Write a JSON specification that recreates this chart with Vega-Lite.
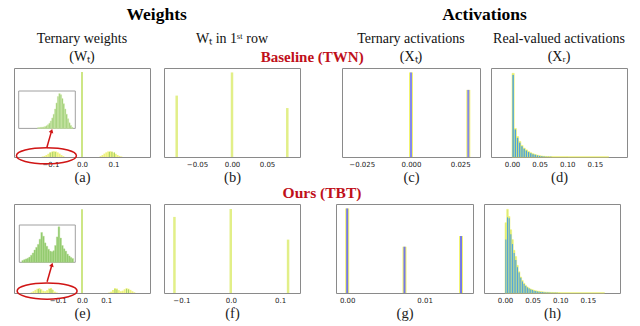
{
  "$schema": "https://vega.github.io/schema/vega-lite/v6.json",
  "background": "white",
  "padding": {"left": 12, "top": 6, "right": 5, "bottom": 2},
  "config": {
    "view": {"stroke": "#8a8a8a", "strokeWidth": 1},
    "axis": {"labelFont": "DejaVu Sans", "labelFontSize": 7, "labelColor": "#222", "ticks": false, "domain": false, "grid": false, "labelPadding": 3, "labelFlush": false, "titleFont": "Liberation Serif", "titleFontSize": 14.5, "titleFontWeight": "normal", "titleColor": "#222", "titlePadding": 3},
    "title": {"font": "Liberation Serif", "fontSize": 14, "fontWeight": "normal", "color": "#111", "offset": 4, "lineHeight": 18, "anchor": "middle"}
  },
  "spacing": 2,
  "vconcat": [
    {
      "title": {"text": "Baseline (TWN)", "color": "#c0101a", "fontWeight": "bold", "fontSize": 15, "offset": 0, "dy": 59, "dx": -8},
      "spacing": 40,
      "hconcat": [
        {
          "title": {"text": "Weights", "fontSize": 17.5, "fontWeight": "bold", "color": "#000", "offset": 8},
          "spacing": 14,
          "bounds": "flush",
          "hconcat": [
            {
              "width": 136, "height": 89,
              "title": {"text": ["Ternary weights", "(Wₜ)"]},
              "resolve": {"scale": {"x": "independent", "y": "independent"}},
              "layer": [
                {
                  "layer": [
                    {
                      "data": {"values": [
                        {"b": -0.128, "e": -0.122, "y": 0.006}, {"b": -0.122, "e": -0.116, "y": 0.012}, {"b": -0.116, "e": -0.11, "y": 0.022}, {"b": -0.11, "e": -0.104, "y": 0.036}, {"b": -0.104, "e": -0.098, "y": 0.05}, {"b": -0.098, "e": -0.092, "y": 0.06}, {"b": -0.092, "e": -0.086, "y": 0.066}, {"b": -0.086, "e": -0.08, "y": 0.062}, {"b": -0.08, "e": -0.074, "y": 0.052}, {"b": -0.074, "e": -0.068, "y": 0.038}, {"b": -0.068, "e": -0.062, "y": 0.022}, {"b": -0.062, "e": -0.056, "y": 0.01},
                        {"b": 0.056, "e": 0.062, "y": 0.01}, {"b": 0.062, "e": 0.068, "y": 0.022}, {"b": 0.068, "e": 0.074, "y": 0.038}, {"b": 0.074, "e": 0.08, "y": 0.052}, {"b": 0.08, "e": 0.086, "y": 0.062}, {"b": 0.086, "e": 0.092, "y": 0.066}, {"b": 0.092, "e": 0.098, "y": 0.06}, {"b": 0.098, "e": 0.104, "y": 0.05}, {"b": 0.104, "e": 0.11, "y": 0.036}, {"b": 0.11, "e": 0.116, "y": 0.022}, {"b": 0.116, "e": 0.122, "y": 0.012}, {"b": 0.122, "e": 0.128, "y": 0.006}
                      ]},
                      "mark": {"type": "rect", "color": "#eef27f"},
                      "encoding": {
                        "x": {"field": "b", "type": "quantitative", "scale": {"domain": [-0.2, 0.2], "nice": false, "zero": false}, "axis": {"values": [-0.1, 0, 0.1], "format": ".1f", "title": "(a)"}},
                        "x2": {"field": "e"},
                        "y": {"field": "y", "type": "quantitative", "scale": {"domain": [0, 1], "nice": false}, "axis": null},
                        "y2": {"datum": 0}
                      }
                    },
                    {
                      "data": {"values": [{"x": -0.101, "y": 0.05}, {"x": -0.093, "y": 0.058}, {"x": -0.085, "y": 0.055}, {"x": 0.087, "y": 0.055}, {"x": 0.095, "y": 0.058}, {"x": 0.103, "y": 0.05}]},
                      "mark": {"type": "bar", "orient": "vertical", "size": 1, "color": "#a5d16b"},
                      "encoding": {"x": {"field": "x", "type": "quantitative"}, "y": {"field": "y", "type": "quantitative"}}
                    },
                    {
                      "data": {"values": [{"x": 0, "y": 0.955}]},
                      "mark": {"type": "bar", "orient": "vertical", "size": 2, "color": "#cde685"},
                      "encoding": {"x": {"field": "x", "type": "quantitative"}, "y": {"field": "y", "type": "quantitative"}}
                    },
                    {
                      "data": {"values": [{}]},
                      "mark": {"type": "point", "shape": "M-1,0A1,0.27,0,1,1,1,0A1,0.27,0,1,1,-1,0Z", "size": 3600, "filled": false, "color": "#d01515", "strokeWidth": 1.5, "opacity": 1},
                      "encoding": {"x": {"datum": -0.113, "type": "quantitative"}, "y": {"datum": 0.014, "type": "quantitative"}}
                    },
                    {
                      "data": {"values": [{}]},
                      "mark": {"type": "rule", "color": "#d01515", "strokeWidth": 1.5},
                      "encoding": {"x": {"datum": -0.112, "type": "quantitative"}, "y": {"datum": 0.102, "type": "quantitative"}, "x2": {"datum": -0.0965}, "y2": {"datum": 0.294}}
                    },
                    {
                      "data": {"values": [{}]},
                      "mark": {"type": "point", "shape": "triangle-up", "size": 22, "filled": true, "color": "#d01515", "angle": 17, "opacity": 1},
                      "encoding": {"x": {"datum": -0.0965, "type": "quantitative"}, "y": {"datum": 0.294, "type": "quantitative"}}
                    }
                  ]
                },
                {
                  "layer": [
                    {
                      "data": {"values": [{}]},
                      "mark": {"type": "rect", "fill": "white", "stroke": "#a0a0a0", "strokeWidth": 1},
                      "encoding": {
                        "x": {"datum": -0.16, "type": "quantitative", "scale": {"domain": [-0.16, -0.04], "range": [4.7, 61.3], "nice": false, "zero": false}, "axis": null},
                        "x2": {"datum": -0.04},
                        "y": {"datum": 0, "type": "quantitative", "scale": {"domain": [0, 1], "range": [60.4, 23], "nice": false}, "axis": null},
                        "y2": {"datum": 1}
                      }
                    },
                    {
                      "data": {"values": [
                        {"b": -0.12, "e": -0.117, "y": 0.02}, {"b": -0.117, "e": -0.114, "y": 0.02}, {"b": -0.114, "e": -0.111, "y": 0.03}, {"b": -0.111, "e": -0.108, "y": 0.03}, {"b": -0.108, "e": -0.105, "y": 0.04}, {"b": -0.105, "e": -0.102, "y": 0.05}, {"b": -0.102, "e": -0.099, "y": 0.07}, {"b": -0.099, "e": -0.096, "y": 0.1}, {"b": -0.096, "e": -0.093, "y": 0.14}, {"b": -0.093, "e": -0.09, "y": 0.2}, {"b": -0.09, "e": -0.087, "y": 0.28}, {"b": -0.087, "e": -0.084, "y": 0.38}, {"b": -0.084, "e": -0.081, "y": 0.52}, {"b": -0.081, "e": -0.078, "y": 0.68}, {"b": -0.078, "e": -0.075, "y": 0.85}, {"b": -0.075, "e": -0.072, "y": 0.93}, {"b": -0.072, "e": -0.069, "y": 0.9}, {"b": -0.069, "e": -0.066, "y": 0.8}, {"b": -0.066, "e": -0.063, "y": 0.66}, {"b": -0.063, "e": -0.06, "y": 0.52}, {"b": -0.06, "e": -0.057, "y": 0.38}, {"b": -0.057, "e": -0.054, "y": 0.26}, {"b": -0.054, "e": -0.051, "y": 0.15}, {"b": -0.051, "e": -0.048, "y": 0.08}, {"b": -0.048, "e": -0.045, "y": 0.03}
                      ]},
                      "mark": {"type": "rect", "fill": "#95ca6c", "stroke": "#d4ebb0", "strokeWidth": 0.5},
                      "encoding": {"x": {"field": "b", "type": "quantitative"}, "x2": {"field": "e"}, "y": {"field": "y", "type": "quantitative"}, "y2": {"datum": 0}}
                    }
                  ]
                }
              ]
            },
            {
              "width": 136, "height": 89,
              "title": {"text": ["Wₜ in 1ˢᵗ row", ""]},
              "data": {"values": [{"x": -0.079, "y": 0.69}, {"x": 0, "y": 0.95}, {"x": 0.079, "y": 0.55}]},
              "mark": {"type": "bar", "orient": "vertical", "size": 2.5, "color": "#e2ef88"},
              "encoding": {
                "x": {"field": "x", "type": "quantitative", "scale": {"domain": [-0.09, 0.09], "nice": false, "zero": false}, "axis": {"values": [-0.05, 0, 0.05], "format": ".2f", "title": "(b)"}},
                "y": {"field": "y", "type": "quantitative", "scale": {"domain": [0, 1], "nice": false}, "axis": null}
              }
            }
          ]
        },
        {
          "title": {"text": "Activations", "fontSize": 17.5, "fontWeight": "bold", "color": "#000", "offset": 8},
          "spacing": 11,
          "bounds": "flush",
          "hconcat": [
            {
              "width": 138, "height": 89,
              "title": {"text": ["Ternary activations", "(Xₜ)"]},
              "data": {"values": [{"x": 0, "y": 0.95}, {"x": 0.0291, "y": 0.754}]},
              "layer": [
                {
                  "mark": {"type": "bar", "orient": "vertical", "size": 4, "color": "#f3f46e"},
                  "encoding": {
                    "x": {"field": "x", "type": "quantitative", "scale": {"domain": [-0.0325, 0.0325], "nice": false, "zero": false}, "axis": {"values": [-0.025, 0, 0.025], "format": ".3f", "title": "(c)"}},
                    "y": {"field": "y", "type": "quantitative", "scale": {"domain": [0, 1], "nice": false}, "axis": null}
                  }
                },
                {
                  "mark": {"type": "bar", "orient": "vertical", "size": 2, "color": "#8488ee"},
                  "encoding": {"x": {"field": "x", "type": "quantitative"}, "y": {"field": "y", "type": "quantitative"}}
                }
              ]
            },
            {
              "width": 136, "height": 89,
              "title": {"text": ["Real-valued activations", "(Xᵣ)"]},
              "data": {"values": [
                {"b": 0, "e": 0.004, "c": 0.002, "yy": 0.94, "yb": 0.92}, {"b": 0.004, "e": 0.008, "c": 0.006, "yy": 0.32, "yb": 0.31}, {"b": 0.008, "e": 0.012, "c": 0.01, "yy": 0.23, "yb": 0.215}, {"b": 0.012, "e": 0.016, "c": 0.014, "yy": 0.175, "yb": 0.16}, {"b": 0.016, "e": 0.02, "c": 0.018, "yy": 0.13, "yb": 0.12}, {"b": 0.02, "e": 0.024, "c": 0.022, "yy": 0.1, "yb": 0.092}, {"b": 0.024, "e": 0.028, "c": 0.026, "yy": 0.08, "yb": 0.072}, {"b": 0.028, "e": 0.032, "c": 0.03, "yy": 0.062, "yb": 0.055}, {"b": 0.032, "e": 0.036, "c": 0.034, "yy": 0.048, "yb": 0.042}, {"b": 0.036, "e": 0.04, "c": 0.038, "yy": 0.037, "yb": 0.032}, {"b": 0.04, "e": 0.044, "c": 0.042, "yy": 0.028, "yb": 0.024}, {"b": 0.044, "e": 0.048, "c": 0.046, "yy": 0.021, "yb": 0.018}, {"b": 0.048, "e": 0.052, "c": 0.05, "yy": 0.015, "yb": 0.012}, {"b": 0.052, "e": 0.056, "c": 0.054, "yy": 0.011, "yb": 0.008}, {"b": 0.056, "e": 0.06, "c": 0.058, "yy": 0.008, "yb": 0.006}, {"b": 0.06, "e": 0.064, "c": 0.062, "yy": 0.006, "yb": 0.004}, {"b": 0.064, "e": 0.068, "c": 0.066, "yy": 0.005, "yb": 0.003}, {"b": 0.068, "e": 0.072, "c": 0.07, "yy": 0.004, "yb": 0.002}, {"b": 0.072, "e": 0.1, "c": 0.086, "yy": 0.003, "yb": 0}, {"b": 0.1, "e": 0.175, "c": 0.1375, "yy": 0.002, "yb": 0}
              ]},
              "layer": [
                {
                  "mark": {"type": "rect", "fill": "#dbeb7c", "stroke": "#f0f25e", "strokeWidth": 0.5},
                  "encoding": {
                    "x": {"field": "b", "type": "quantitative", "scale": {"domain": [-0.029, 0.199], "nice": false, "zero": false}, "axis": {"values": [0, 0.05, 0.1, 0.15], "format": ".2f", "title": "(d)"}},
                    "x2": {"field": "e"},
                    "y": {"field": "yy", "type": "quantitative", "scale": {"domain": [0, 1], "nice": false}, "axis": null},
                    "y2": {"datum": 0}
                  }
                },
                {
                  "mark": {"type": "bar", "orient": "vertical", "size": 1.4, "color": "#4ea2dc"},
                  "encoding": {"x": {"field": "c", "type": "quantitative"}, "y": {"field": "yb", "type": "quantitative"}}
                }
              ]
            }
          ]
        }
      ]
    },
    {
      "title": {"text": "Ours (TBT)", "color": "#c0101a", "fontWeight": "bold", "fontSize": 15.5, "offset": 2, "dx": 5},
      "spacing": 34,
      "hconcat": [
        {
          "spacing": 14,
          "bounds": "flush",
          "hconcat": [
            {
              "width": 136, "height": 89,
              "resolve": {"scale": {"x": "independent", "y": "independent"}},
              "layer": [
                {
                  "layer": [
                    {
                      "data": {"values": [
                        {"b": -0.212, "e": -0.204, "y": 0.008}, {"b": -0.204, "e": -0.196, "y": 0.02}, {"b": -0.196, "e": -0.188, "y": 0.035}, {"b": -0.188, "e": -0.18, "y": 0.048}, {"b": -0.18, "e": -0.172, "y": 0.055}, {"b": -0.172, "e": -0.164, "y": 0.042}, {"b": -0.164, "e": -0.156, "y": 0.026}, {"b": -0.156, "e": -0.148, "y": 0.02}, {"b": -0.148, "e": -0.14, "y": 0.032}, {"b": -0.14, "e": -0.132, "y": 0.05}, {"b": -0.132, "e": -0.124, "y": 0.055}, {"b": -0.124, "e": -0.116, "y": 0.035}, {"b": -0.116, "e": -0.108, "y": 0.015}, {"b": -0.108, "e": -0.1, "y": 0.005},
                        {"b": 0.108, "e": 0.116, "y": 0.005}, {"b": 0.116, "e": 0.124, "y": 0.015}, {"b": 0.124, "e": 0.132, "y": 0.035}, {"b": 0.132, "e": 0.14, "y": 0.055}, {"b": 0.14, "e": 0.148, "y": 0.05}, {"b": 0.148, "e": 0.156, "y": 0.032}, {"b": 0.156, "e": 0.164, "y": 0.02}, {"b": 0.164, "e": 0.172, "y": 0.026}, {"b": 0.172, "e": 0.18, "y": 0.042}, {"b": 0.18, "e": 0.188, "y": 0.055}, {"b": 0.188, "e": 0.196, "y": 0.048}, {"b": 0.196, "e": 0.204, "y": 0.035}, {"b": 0.204, "e": 0.212, "y": 0.02}, {"b": 0.212, "e": 0.22, "y": 0.008}
                      ]},
                      "mark": {"type": "rect", "color": "#eef27f"},
                      "encoding": {
                        "x": {"field": "b", "type": "quantitative", "scale": {"domain": [-0.26, 0.26], "nice": false, "zero": false}, "axis": {"values": [-0.1, 0, 0.1], "format": ".1f", "title": "(e)"}},
                        "x2": {"field": "e"},
                        "y": {"field": "y", "type": "quantitative", "scale": {"domain": [0, 1], "nice": false}, "axis": null},
                        "y2": {"datum": 0}
                      }
                    },
                    {
                      "data": {"values": [{"x": -0.18, "y": 0.045}, {"x": -0.172, "y": 0.04}, {"x": -0.132, "y": 0.045}, {"x": -0.124, "y": 0.04}, {"x": 0.136, "y": 0.045}, {"x": 0.144, "y": 0.04}, {"x": 0.184, "y": 0.045}, {"x": 0.192, "y": 0.04}]},
                      "mark": {"type": "bar", "orient": "vertical", "size": 1, "color": "#a5d16b"},
                      "encoding": {"x": {"field": "x", "type": "quantitative"}, "y": {"field": "y", "type": "quantitative"}}
                    },
                    {
                      "data": {"values": [{"x": 0, "y": 0.94}]},
                      "mark": {"type": "bar", "orient": "vertical", "size": 2, "color": "#cde685"},
                      "encoding": {"x": {"field": "x", "type": "quantitative"}, "y": {"field": "y", "type": "quantitative"}}
                    },
                    {
                      "data": {"values": [{}]},
                      "mark": {"type": "point", "shape": "M-1,0A1,0.27,0,1,1,1,0A1,0.27,0,1,1,-1,0Z", "size": 3600, "filled": false, "color": "#d01515", "strokeWidth": 1.5, "opacity": 1},
                      "encoding": {"x": {"datum": -0.144, "type": "quantitative"}, "y": {"datum": 0.022, "type": "quantitative"}}
                    },
                    {
                      "data": {"values": [{}]},
                      "mark": {"type": "rule", "color": "#d01515", "strokeWidth": 1.5},
                      "encoding": {"x": {"datum": -0.144, "type": "quantitative"}, "y": {"datum": 0.127, "type": "quantitative"}, "x2": {"datum": -0.124}, "y2": {"datum": 0.318}}
                    },
                    {
                      "data": {"values": [{}]},
                      "mark": {"type": "point", "shape": "triangle-up", "size": 22, "filled": true, "color": "#d01515", "angle": 17, "opacity": 1},
                      "encoding": {"x": {"datum": -0.124, "type": "quantitative"}, "y": {"datum": 0.318, "type": "quantitative"}}
                    }
                  ]
                },
                {
                  "layer": [
                    {
                      "data": {"values": [{}]},
                      "mark": {"type": "rect", "fill": "white", "stroke": "#a0a0a0", "strokeWidth": 1},
                      "encoding": {
                        "x": {"datum": -0.22, "type": "quantitative", "scale": {"domain": [-0.22, -0.09], "range": [5.3, 61.3], "nice": false, "zero": false}, "axis": null},
                        "x2": {"datum": -0.09},
                        "y": {"datum": 0, "type": "quantitative", "scale": {"domain": [0, 1], "range": [58.3, 21], "nice": false}, "axis": null},
                        "y2": {"datum": 1}
                      }
                    },
                    {
                      "data": {"values": [
                        {"b": -0.214, "e": -0.21, "y": 0.05}, {"b": -0.21, "e": -0.206, "y": 0.07}, {"b": -0.206, "e": -0.202, "y": 0.09}, {"b": -0.202, "e": -0.198, "y": 0.11}, {"b": -0.198, "e": -0.194, "y": 0.14}, {"b": -0.194, "e": -0.19, "y": 0.19}, {"b": -0.19, "e": -0.186, "y": 0.25}, {"b": -0.186, "e": -0.182, "y": 0.33}, {"b": -0.182, "e": -0.178, "y": 0.4}, {"b": -0.178, "e": -0.174, "y": 0.48}, {"b": -0.174, "e": -0.17, "y": 0.62}, {"b": -0.17, "e": -0.166, "y": 0.8}, {"b": -0.166, "e": -0.162, "y": 0.7}, {"b": -0.162, "e": -0.158, "y": 0.52}, {"b": -0.158, "e": -0.154, "y": 0.43}, {"b": -0.154, "e": -0.15, "y": 0.35}, {"b": -0.15, "e": -0.146, "y": 0.3}, {"b": -0.146, "e": -0.142, "y": 0.28}, {"b": -0.142, "e": -0.138, "y": 0.31}, {"b": -0.138, "e": -0.134, "y": 0.45}, {"b": -0.134, "e": -0.13, "y": 0.68}, {"b": -0.13, "e": -0.126, "y": 0.95}, {"b": -0.126, "e": -0.122, "y": 0.65}, {"b": -0.122, "e": -0.118, "y": 0.45}, {"b": -0.118, "e": -0.114, "y": 0.36}, {"b": -0.114, "e": -0.11, "y": 0.3}, {"b": -0.11, "e": -0.106, "y": 0.22}, {"b": -0.106, "e": -0.102, "y": 0.17}, {"b": -0.102, "e": -0.098, "y": 0.13}, {"b": -0.098, "e": -0.094, "y": 0.1}
                      ]},
                      "mark": {"type": "rect", "fill": "#8fc96b", "stroke": "#b5dc92", "strokeWidth": 0.4},
                      "encoding": {"x": {"field": "b", "type": "quantitative"}, "x2": {"field": "e"}, "y": {"field": "y", "type": "quantitative"}, "y2": {"datum": 0}}
                    }
                  ]
                }
              ]
            },
            {
              "width": 136, "height": 89,
              "data": {"values": [{"x": -0.114, "y": 0.855}, {"x": 0, "y": 0.944}, {"x": 0.116, "y": 0.6}]},
              "mark": {"type": "bar", "orient": "vertical", "size": 2.5, "color": "#e2ef88"},
              "encoding": {
                "x": {"field": "x", "type": "quantitative", "scale": {"domain": [-0.125, 0.13], "nice": false, "zero": false}, "axis": {"values": [-0.1, 0, 0.1], "format": ".1f", "title": "(f)"}},
                "y": {"field": "y", "type": "quantitative", "scale": {"domain": [0, 1], "nice": false}, "axis": null}
              }
            }
          ]
        },
        {
          "spacing": 11,
          "bounds": "flush",
          "hconcat": [
            {
              "width": 137, "height": 89,
              "data": {"values": [{"x": 0, "y": 0.95}, {"x": 0.0074, "y": 0.52}, {"x": 0.0147, "y": 0.64}]},
              "layer": [
                {
                  "mark": {"type": "bar", "orient": "vertical", "size": 4, "color": "#f3f46e"},
                  "encoding": {
                    "x": {"field": "x", "type": "quantitative", "scale": {"domain": [-0.0008, 0.0156], "nice": false, "zero": false}, "axis": {"values": [0, 0.01], "format": ".2f", "title": "(g)"}},
                    "y": {"field": "y", "type": "quantitative", "scale": {"domain": [0, 1], "nice": false}, "axis": null}
                  }
                },
                {
                  "mark": {"type": "bar", "orient": "vertical", "size": 2, "color": "#7478e8"},
                  "encoding": {"x": {"field": "x", "type": "quantitative"}, "y": {"field": "y", "type": "quantitative"}}
                }
              ]
            },
            {
              "width": 136, "height": 89,
              "data": {"values": [
                {"b": 0, "e": 0.003, "c": 0.0015, "yy": 0.79, "yb": 0.6}, {"b": 0.003, "e": 0.006, "c": 0.0045, "yy": 0.94, "yb": 0.85}, {"b": 0.006, "e": 0.009, "c": 0.0075, "yy": 0.86, "yb": 0.84}, {"b": 0.009, "e": 0.012, "c": 0.0105, "yy": 0.71, "yb": 0.66}, {"b": 0.012, "e": 0.015, "c": 0.0135, "yy": 0.6, "yb": 0.55}, {"b": 0.015, "e": 0.018, "c": 0.0165, "yy": 0.48, "yb": 0.45}, {"b": 0.018, "e": 0.021, "c": 0.0195, "yy": 0.41, "yb": 0.37}, {"b": 0.021, "e": 0.024, "c": 0.0225, "yy": 0.31, "yb": 0.29}, {"b": 0.024, "e": 0.027, "c": 0.0255, "yy": 0.24, "yb": 0.23}, {"b": 0.027, "e": 0.03, "c": 0.0285, "yy": 0.18, "yb": 0.17}, {"b": 0.03, "e": 0.033, "c": 0.0315, "yy": 0.14, "yb": 0.13}, {"b": 0.033, "e": 0.036, "c": 0.0345, "yy": 0.11, "yb": 0.1}, {"b": 0.036, "e": 0.039, "c": 0.0375, "yy": 0.086, "yb": 0.08}, {"b": 0.039, "e": 0.042, "c": 0.0405, "yy": 0.068, "yb": 0.062}, {"b": 0.042, "e": 0.045, "c": 0.0435, "yy": 0.056, "yb": 0.05}, {"b": 0.045, "e": 0.048, "c": 0.0465, "yy": 0.045, "yb": 0.04}, {"b": 0.048, "e": 0.051, "c": 0.0495, "yy": 0.038, "yb": 0.033}, {"b": 0.051, "e": 0.054, "c": 0.0525, "yy": 0.03, "yb": 0.026}, {"b": 0.054, "e": 0.057, "c": 0.0555, "yy": 0.026, "yb": 0.022}, {"b": 0.057, "e": 0.06, "c": 0.0585, "yy": 0.022, "yb": 0.018}, {"b": 0.06, "e": 0.063, "c": 0.0615, "yy": 0.019, "yb": 0.015}, {"b": 0.063, "e": 0.066, "c": 0.0645, "yy": 0.016, "yb": 0.012}, {"b": 0.066, "e": 0.069, "c": 0.0675, "yy": 0.014, "yb": 0.01}, {"b": 0.069, "e": 0.072, "c": 0.0705, "yy": 0.012, "yb": 0.008}, {"b": 0.072, "e": 0.075, "c": 0.0735, "yy": 0.01, "yb": 0.007}, {"b": 0.075, "e": 0.078, "c": 0.0765, "yy": 0.009, "yb": 0.006}, {"b": 0.078, "e": 0.081, "c": 0.0795, "yy": 0.008, "yb": 0.005}, {"b": 0.081, "e": 0.084, "c": 0.0825, "yy": 0.007, "yb": 0.004}, {"b": 0.084, "e": 0.087, "c": 0.0855, "yy": 0.006, "yb": 0.003}, {"b": 0.087, "e": 0.09, "c": 0.0885, "yy": 0.005, "yb": 0.003}, {"b": 0.09, "e": 0.093, "c": 0.0915, "yy": 0.005, "yb": 0.002}, {"b": 0.093, "e": 0.096, "c": 0.0945, "yy": 0.004, "yb": 0.002}, {"b": 0.096, "e": 0.099, "c": 0.0975, "yy": 0.004, "yb": 0.001}, {"b": 0.099, "e": 0.18, "c": 0.14, "yy": 0.003, "yb": 0}
              ]},
              "layer": [
                {
                  "mark": {"type": "rect", "fill": "#d9ea7a", "stroke": "#eef26a", "strokeWidth": 0.5},
                  "encoding": {
                    "x": {"field": "b", "type": "quantitative", "scale": {"domain": [-0.029, 0.199], "nice": false, "zero": false}, "axis": {"values": [0, 0.05, 0.1, 0.15], "format": ".2f", "title": "(h)"}},
                    "x2": {"field": "e"},
                    "y": {"field": "yy", "type": "quantitative", "scale": {"domain": [0, 1], "nice": false}, "axis": null},
                    "y2": {"datum": 0}
                  }
                },
                {
                  "mark": {"type": "bar", "orient": "vertical", "size": 1.1, "color": "#55a6d8"},
                  "encoding": {"x": {"field": "c", "type": "quantitative"}, "y": {"field": "yb", "type": "quantitative"}}
                }
              ]
            }
          ]
        }
      ]
    }
  ]
}
